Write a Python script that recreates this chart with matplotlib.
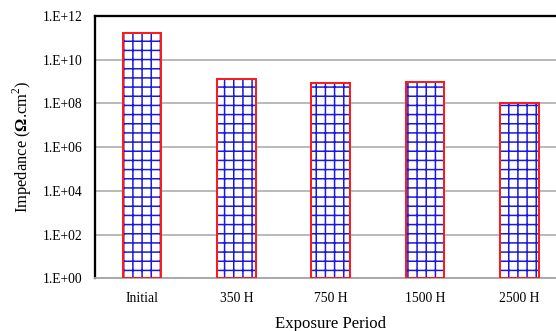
import matplotlib
matplotlib.use("Agg")
import matplotlib.pyplot as plt

categories = ["Initial", "350 H", "750 H", "1500 H", "2500 H"]
impedance = [1.6e11, 1.3e9, 8.8e8, 9.3e8, 1.0e8]
ytick_values = [1e0, 1e2, 1e4, 1e6, 1e8, 1e10, 1e12]
ytick_labels = ["1.E+00", "1.E+02", "1.E+04", "1.E+06", "1.E+08", "1.E+10", "1.E+12"]

plt.rcParams["font.family"] = ["Liberation Serif", "DejaVu Serif"]
plt.rcParams["mathtext.fontset"] = "custom"
plt.rcParams["mathtext.rm"] = "Liberation Serif"
plt.rcParams["mathtext.bf"] = "Liberation Serif:bold"
plt.rcParams["hatch.linewidth"] = 1.0

dpi = 110
fig = plt.figure(figsize=(556 / dpi, 331 / dpi), dpi=dpi)
ax = fig.add_axes([95 / 556, 1 - 278.3 / 331, 471.5 / 556, (278.3 - 16) / 331])

x = range(len(categories))
ax.bar(x, impedance, width=0.41, bottom=1, color="white", edgecolor="#1a1adc",
       linewidth=0, hatch="++", zorder=2)
ax.bar(x, impedance, width=0.41, bottom=1, color="none", edgecolor="#ff1a1a",
       linewidth=1.3, zorder=3)

ax.set_yscale("log")
ax.set_ylim(1, 1e12)
ax.set_xlim(-0.5, len(categories) - 0.5)
ax.set_yticks(ytick_values)
ax.set_yticklabels(ytick_labels)
ax.minorticks_off()
ax.set_xticks(list(x))
ax.set_xticklabels(categories)
ax.tick_params(axis="both", length=0, labelsize=8.9)
ax.tick_params(axis="x", pad=9)
ax.tick_params(axis="y", pad=8)

ax.yaxis.grid(True, color="#a6a6a6", linewidth=1.0, zorder=0)
ax.set_axisbelow(True)
ax.spines["right"].set_visible(False)
ax.spines["left"].set_color("black")
ax.spines["left"].set_linewidth(1.5)
ax.spines["top"].set_color("black")
ax.spines["top"].set_linewidth(1.5)
ax.spines["bottom"].set_color("#a6a6a6")
ax.spines["bottom"].set_linewidth(1.2)

ax.set_xlabel("Exposure Period", fontsize=11, labelpad=7)
ax.set_ylabel(r"Impedance ($\mathbf{\Omega}$.cm$^{2}$)", fontsize=10.8, labelpad=5.5)

fig.savefig("out.png", dpi=dpi)
